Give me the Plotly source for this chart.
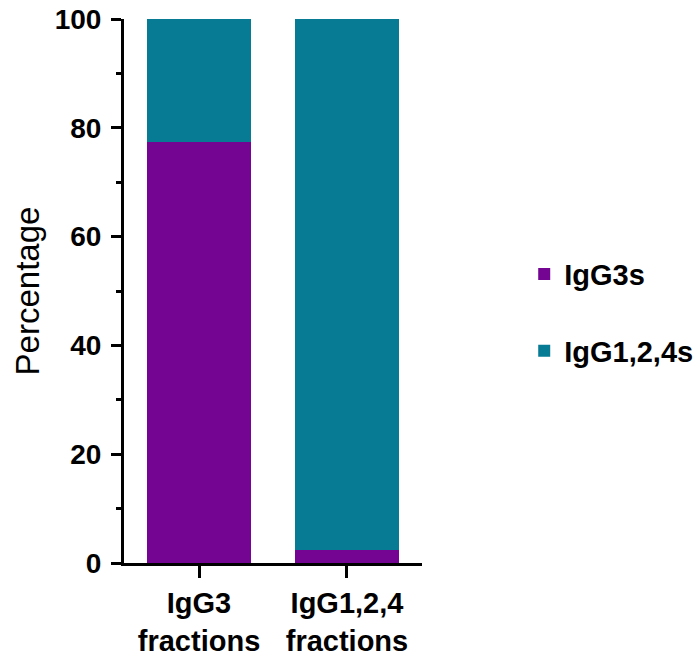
import plotly.graph_objects as go

categories = ["IgG3<br>fractions", "IgG1,2,4<br>fractions"]
igg3s = [77.3, 2.4]
igg124s = [22.7, 97.6]
series_names = ["IgG3s", "IgG1,2,4s"]
colors = ["#730592", "#077B93"]
y_ticks = [0, 20, 40, 60, 80, 100]

font_family = "Arial, Liberation Sans, sans-serif"

fig = go.Figure()
for i, (name, vals) in enumerate(zip(series_names, [igg3s, igg124s])):
    fig.add_trace(go.Bar(
        x=categories, y=vals, name=name,
        marker=dict(color=colors[i], line=dict(width=0)),
        width=0.7, legendgroup=name,
    ))

fig.update_layout(
    width=697, height=657,
    barmode="stack",
    plot_bgcolor="white", paper_bgcolor="white",
    margin=dict(l=124, r=275, t=19, b=94, autoexpand=False),
    font=dict(family=font_family, color="black"),
    legend=dict(
        x=1.343, y=0.46, xanchor="left", yanchor="middle",
        font=dict(size=29, family=font_family, weight="bold"),
        tracegroupgap=36, traceorder="grouped",
        bgcolor="rgba(0,0,0,0)",
    ),
    showlegend=True,
)
fig.update_xaxes(
    type="category", range=[-0.507, 1.507], automargin=False,
    showline=True, linecolor="black", linewidth=3,
    ticks="outside", ticklen=12, tickwidth=3, tickcolor="black",
    tickfont=dict(size=29, family=font_family, weight="bold"),
    showgrid=False, zeroline=False,
)
fig.update_yaxes(
    range=[0, 100], automargin=False,
    tickvals=y_ticks, ticktext=[str(v) for v in y_ticks],
    showline=True, linecolor="black", linewidth=3,
    ticks="outside", ticklen=10, tickwidth=3, tickcolor="black",
    ticklabelstandoff=4,
    tickfont=dict(size=28, family=font_family, weight="bold"),
    minor=dict(tickvals=[10, 30, 50, 70, 90], ticks="outside", ticklen=5, tickwidth=3, tickcolor="black"),
    showgrid=False, zeroline=False,
    title=dict(text="Percentage", font=dict(size=33, family=font_family), standoff=6),
)

fig.write_html(
    "out.html",
    config={"displayModeBar": False},
    post_script="document.body.style.margin='0';document.body.style.overflow='hidden';",
)
